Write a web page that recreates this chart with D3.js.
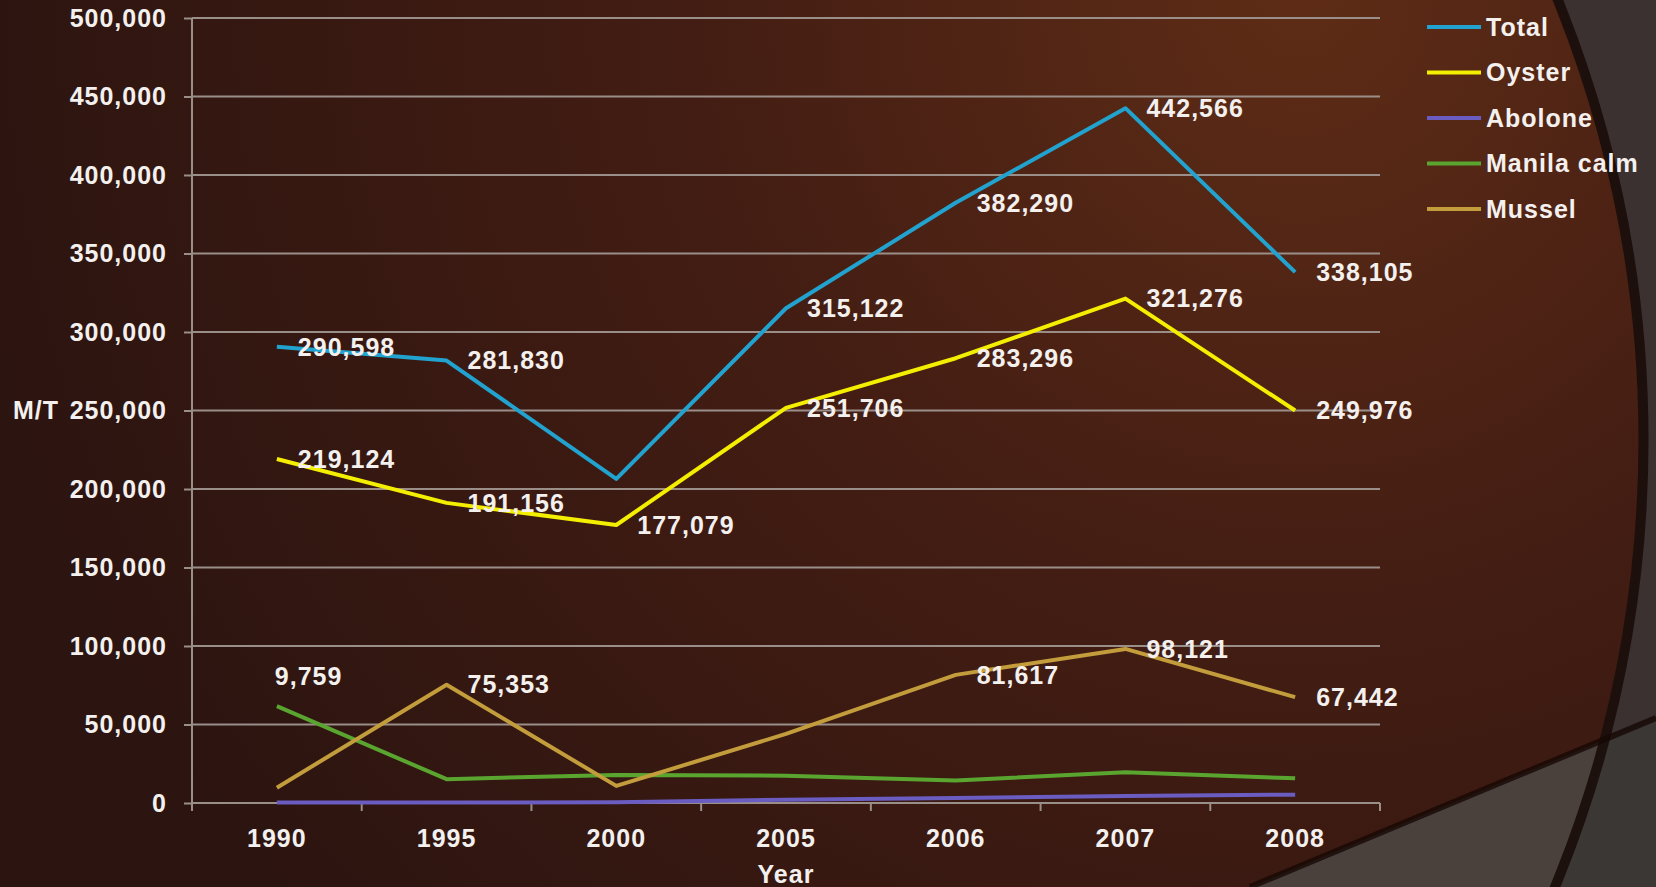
<!DOCTYPE html>
<html>
<head>
<meta charset="utf-8">
<script src="https://cdn.jsdelivr.net/npm/d3@7"></script>
<style>
  html, body { margin: 0; padding: 0; background: #3b3331; overflow: hidden; }
  svg { display: block; }
  text { font-family: "Liberation Sans", Arial, sans-serif; font-weight: bold; fill: #f3f0ee; letter-spacing: 1px; }
</style>
</head>
<body>
<svg id="chart" width="1656" height="887"></svg>
<script>
// Shellfish aquaculture production (metric tons) by year
const years = ["1990", "1995", "2000", "2005", "2006", "2007", "2008"];
const total      = [290598, 281830, 206400, 315122, 382290, 442566, 338105];
const oyster     = [219124, 191156, 177079, 251706, 283296, 321276, 249976];
const abolone    = [300, 300, 500, 2100, 3200, 4500, 5300];
const manilaCalm = [61700, 15200, 17900, 17400, 14300, 19600, 15700];
const mussel     = [9759, 75353, 10900, 44000, 81617, 98121, 67442];
const seriesNames = ["Total", "Oyster", "Abolone", "Manila calm", "Mussel"];
const yTickValues = [0, 50000, 100000, 150000, 200000, 250000, 300000, 350000, 400000, 450000, 500000];

// Points that carry a value label (1 = labelled)
const totalLabelled   = [1, 1, 0, 1, 1, 1, 1];
const oysterLabelled  = [1, 1, 1, 1, 1, 1, 1];
const abolonLabelled  = [0, 0, 0, 0, 0, 0, 0];
const manilaLabelled  = [0, 0, 0, 0, 0, 0, 0];
const musselLabelled  = [1, 1, 0, 0, 1, 1, 1];

const colors = ["#22a3cf", "#f4ee00", "#6a5cc0", "#5aa530", "#c39c3c"];
const seriesValues = [total, oyster, abolone, manilaCalm, mussel];
const seriesLabelled = [totalLabelled, oysterLabelled, abolonLabelled, manilaLabelled, musselLabelled];

const W = 1656, H = 887;
const svg = d3.select("#chart");
const defs = svg.append("defs");

// ---- slide backdrop ----
const bg = defs.append("radialGradient").attr("id", "bgGrad")
  .attr("gradientUnits", "userSpaceOnUse")
  .attr("cx", 1300).attr("cy", 0).attr("r", 1350);
bg.append("stop").attr("offset", 0).attr("stop-color", "#5e2c16");
bg.append("stop").attr("offset", 0.45).attr("stop-color", "#431d13");
bg.append("stop").attr("offset", 1).attr("stop-color", "#2c1410");

const circ = { cx: 470, cy: 440, r: 1169 };
defs.append("clipPath").attr("id", "circleClip")
  .append("circle").attr("cx", circ.cx).attr("cy", circ.cy).attr("r", circ.r);

svg.append("rect").attr("width", W).attr("height", H).attr("fill", "#3a3130");
const wedge = "M1250,887 Q1455,802 1656,718 L1656,887 Z";
svg.append("path").attr("d", wedge).attr("fill", "#3b3735");
svg.append("circle").attr("cx", circ.cx).attr("cy", circ.cy).attr("r", circ.r).attr("fill", "url(#bgGrad)");
svg.append("path").attr("d", wedge).attr("fill", "#4a413d").attr("clip-path", "url(#circleClip)");
svg.append("circle").attr("cx", circ.cx).attr("cy", circ.cy).attr("r", circ.r + 4.5)
  .attr("fill", "none").attr("stroke", "rgba(22,8,4,0.8)").attr("stroke-width", 10);
svg.append("path").attr("d", "M1250,887 Q1455,802 1656,718")
  .attr("fill", "none").attr("stroke", "rgba(22,8,4,0.8)").attr("stroke-width", 6);

// ---- scales ----
const x = d3.scaleBand().domain(years).range([192, 1380]).paddingInner(0).paddingOuter(0);
const y = d3.scaleLinear().domain([0, 500000]).range([803, 18]);
const cx = d => x(d) + x.bandwidth() / 2;
const gridColor = "#9a8e89";

// horizontal gridlines
svg.append("g").selectAll("line").data(yTickValues).join("line")
  .attr("x1", 192).attr("x2", 1380)
  .attr("y1", d => y(d)).attr("y2", d => y(d))
  .attr("stroke", gridColor).attr("stroke-width", 2);

// y axis
const yAxis = svg.append("g").attr("transform", "translate(192,0)")
  .call(d3.axisLeft(y).tickValues(yTickValues).tickSize(8).tickPadding(17)
    .tickFormat(d3.format(",")));
yAxis.select(".domain").attr("stroke", gridColor).attr("stroke-width", 2)
  .attr("d", `M0,${y(500000)}V${y(0) + 8}`);
yAxis.selectAll(".tick line").attr("stroke", gridColor).attr("stroke-width", 2);
yAxis.selectAll(".tick text").style("font-size", "25px").attr("fill", "#f3f0ee");

// x axis: ticks at category boundaries, labels at centres
const xAxis = svg.append("g").attr("transform", `translate(0,${y(0)})`);
xAxis.append("line").attr("x1", 192).attr("x2", 1380).attr("y1", 0).attr("y2", 0)
  .attr("stroke", gridColor).attr("stroke-width", 2);
const boundaries = years.map(d => x(d)).concat([x.range()[1]]);
xAxis.selectAll("line.tk").data(boundaries).join("line").attr("class", "tk")
  .attr("x1", d => d).attr("x2", d => d).attr("y1", 0).attr("y2", 8)
  .attr("stroke", gridColor).attr("stroke-width", 2);
xAxis.selectAll("text").data(years).join("text")
  .attr("x", d => cx(d)).attr("y", 35).attr("dy", "0.35em")
  .attr("text-anchor", "middle").style("font-size", "25px").text(d => d);

// axis titles
svg.append("text").attr("x", 786).attr("y", 874).attr("dy", "0.35em")
  .attr("text-anchor", "middle").style("font-size", "25px").text("Year");
svg.append("text").attr("x", 13).attr("y", y(250000)).attr("dy", "0.35em")
  .style("font-size", "25px").text("M/T");

// ---- series lines ----
const line = d3.line().x((d, i) => cx(years[i])).y(d => y(d));
const linesG = svg.append("g");
seriesValues.forEach((vals, s) => {
  linesG.append("path").datum(vals).attr("d", line)
    .attr("fill", "none").attr("stroke", colors[s]).attr("stroke-width", 4)
    .attr("stroke-linejoin", "round").attr("stroke-linecap", "butt");
});

// ---- value labels ----
const fmt = d3.format(",");
const labelsG = svg.append("g");
seriesValues.forEach((vals, s) => {
  vals.forEach((v, i) => {
    if (!seriesLabelled[s][i]) return;
    let dx = 21, dy = 0;
    if (s === 4 && i === 0) { dx = -2; dy = -111; }   // 1990 mussel label sits above the lines
    labelsG.append("text")
      .attr("x", cx(years[i]) + dx).attr("y", y(v) + dy).attr("dy", "0.35em")
      .style("font-size", "25px").text(fmt(v));
  });
});

// ---- legend ----
const legend = svg.append("g").attr("transform", "translate(1427,27)");
seriesNames.forEach((name, s) => {
  const g = legend.append("g").attr("transform", `translate(0,${s * 45.5})`);
  g.append("line").attr("x1", 0).attr("x2", 54).attr("y1", 0).attr("y2", 0)
    .attr("stroke", colors[s]).attr("stroke-width", 4);
  g.append("text").attr("x", 59).attr("y", 0).attr("dy", "0.35em")
    .style("font-size", "25px").text(name);
});
</script>
</body>
</html>
